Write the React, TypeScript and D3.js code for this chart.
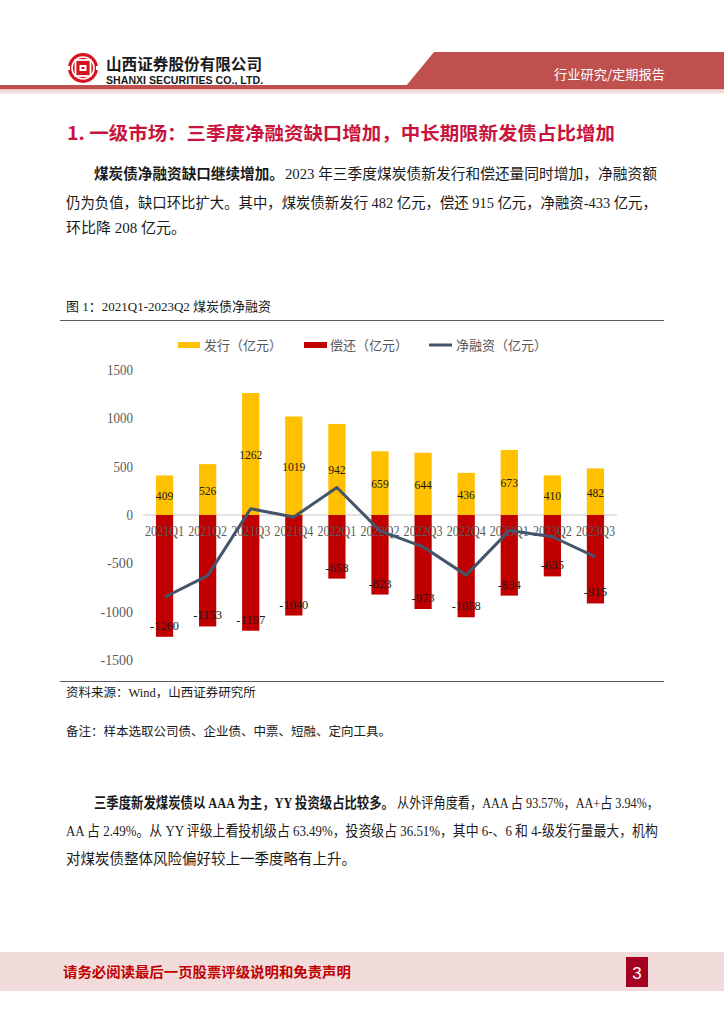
import React, { useLayoutEffect, useRef, useState, useEffect } from "react";
import * as d3 from "d3";

const categories = ["2021Q1","2021Q2","2021Q3","2021Q4","2022Q1","2022Q2","2022Q3","2022Q4","2023Q1","2023Q2","2023Q3"];
const issuance = [409, 526, 1262, 1019, 942, 659, 644, 436, 673, 410, 482];
const repayment = [-1260, -1153, -1197, -1040, -658, -823, -973, -1058, -834, -635, -915];
const netFinancing = [-851, -627, 65, -21, 284, -164, -329, -622, -161, -225, -433];
const yTicks = [1500, 1000, 500, 0, -500, -1000, -1500];
const legendItems = ["发行（亿元）", "偿还（亿元）", "净融资（亿元）"];

const SERIF = "'Liberation Serif', 'Noto Sans CJK SC', serif";
const SANS = "'Noto Sans CJK SC', 'Noto Sans', sans-serif";

function FitText(props: any) {
  const { x, y, width, children, ...rest } = props;
  const ref = useRef<SVGTextElement>(null);
  const [s, setS] = useState(1);
  const measure = () => {
    if (!ref.current) return;
    const w = ref.current.getComputedTextLength();
    if (w > 0) setS(width / w);
  };
  useLayoutEffect(measure, []);
  useEffect(() => {
    const f = (document as any).fonts;
    if (f && f.ready) f.ready.then(measure);
  }, []);
  return (
    <text ref={ref} x={0} y={0} transform={`translate(${x},${y}) scale(${s},1)`} {...rest}>
      {children}
    </text>
  );
}

export default function App() {
  const x = d3.scaleBand<string>().domain(categories).range([143, 617]).padding(0);
  const y = d3.scaleLinear().domain([-1500, 1500]).range([660, 370]);
  const bw = x.bandwidth() * 0.4;
  const cx = (c: string) => (x(c) as number) + x.bandwidth() / 2;
  const line = d3.line<number>().x((_, i) => cx(categories[i])).y((d) => y(d));

  const gray = "#595959";
  return (
    <svg width={724} height={1024} style={{ position: "absolute", left: 0, top: 0, background: "#fff" }}>
      {/* Header */}
      <g>
        <circle cx={83} cy={68} r={15} fill="#d7141e" />
        <circle cx={83} cy={68} r={11} fill="none" stroke="#fff" strokeWidth={1.6} />
        <rect x={75.5} y={60} width={15} height={16} fill="#d7141e" stroke="#fff" strokeWidth={1.8} />
        <rect x={79.5} y={65} width={7} height={6} fill="#fff" />
        <rect x={81.5} y={67} width={3} height={2} fill="#d7141e" />
        <rect x={66} y={66} width={4} height={4} fill="#fff" />
        <rect x={96} y={66} width={4} height={4} fill="#fff" />
        <FitText x={106} y={70} width={156} fontFamily={SANS} fontWeight={700} fontSize={15.5} fill="#1a1a1a">山西证券股份有限公司</FitText>
        <FitText x={106} y={84} width={157} fontFamily="'Liberation Sans', Arial, sans-serif" fontWeight={700} fontSize={10.5} fill="#1a1a1a">SHANXI SECURITIES CO., LTD.</FitText>
        <polygon points="434,52 724,52 724,86 406,86" fill="#c0504d" />
        <rect x={0} y={85} width={724} height={4.5} fill="#c0504d" />
        <rect x={0} y={89.5} width={724} height={4} fill="#f2dcdb" />
        <FitText x={554} y={79} width={111} fontFamily={SANS} fontSize={13} fill="#fff">行业研究/定期报告</FitText>
      </g>

      {/* Title */}
      <FitText x={67} y={140} width={548} fontFamily={SANS} fontWeight={700} fontSize={18.5} fill="#c8143c">1. 一级市场：三季度净融资缺口增加，中长期限新发债占比增加</FitText>

      {/* Paragraph 1 */}
      <g fontFamily={SERIF} fontSize={15} fill="#1a1a1a">
        <FitText x={94} y={179} width={190} fontFamily={SANS} fontWeight={700}>煤炭债净融资缺口继续增加。</FitText>
        <FitText x={285} y={179} width={372}>2023 年三季度煤炭债新发行和偿还量同时增加，净融资额</FitText>
        <FitText x={66} y={208} width={591}>仍为负值，缺口环比扩大。其中，煤炭债新发行 482 亿元，偿还 915 亿元，净融资-433 亿元，</FitText>
        <text x={66} y={233}>环比降 208 亿元。</text>
      </g>

      {/* Caption */}
      <text x={66} y={311} fontFamily={SERIF} fontSize={13} fill="#1a1a1a">图 1：2021Q1-2023Q2 煤炭债净融资</text>
      <line x1={60} x2={664} y1={320.5} y2={320.5} stroke="#595959" strokeWidth={1.2} />

      {/* Legend */}
      <g fontFamily={SANS} fontSize={13} fill={gray}>
        <rect x={178} y={342} width={22} height={6} fill="#ffc000" />
        <text x={204} y={350}>{legendItems[0]}</text>
        <rect x={304} y={342} width={23} height={6} fill="#c00000" />
        <text x={330} y={350}>{legendItems[1]}</text>
        <line x1={429} x2={452} y1={345} y2={345} stroke="#44546a" strokeWidth={3} />
        <text x={456} y={350}>{legendItems[2]}</text>
      </g>

      {/* Y axis labels */}
      <g fontFamily={SERIF} fontSize={14} fill={gray} textAnchor="end">
        {yTicks.map((t) => (
          <FitText key={t} x={133} y={y(t) + 5} width={String(t).length * 6.5}>{t}</FitText>
        ))}
      </g>

      {/* Zero line */}
      <line x1={143} x2={617} y1={y(0)} y2={y(0)} stroke="#d9d9d9" strokeWidth={1.5} />

      {/* Bars */}
      {categories.map((c, i) => (
        <g key={c}>
          <rect x={cx(c) - bw / 2} y={y(issuance[i])} width={bw} height={y(0) - y(issuance[i])} fill="#ffc000" />
          <rect x={cx(c) - bw / 2} y={y(0)} width={bw} height={y(repayment[i]) - y(0)} fill="#c00000" />
        </g>
      ))}

      {/* Category labels */}
      <g fontFamily={SERIF} fontSize={14} fill={gray} textAnchor="middle">
        {categories.map((c) => (
          <FitText key={c} x={cx(c)} y={536} width={39}>{c}</FitText>
        ))}
      </g>

      {/* Net line */}
      <path d={line(netFinancing) || ""} fill="none" stroke="#44546a" strokeWidth={3} strokeLinejoin="round" />

      {/* Data labels */}
      <g fontFamily={SERIF} fontSize={13.5} fill="#1a1a1a" textAnchor="middle">
        {categories.map((c, i) => (
          <FitText key={"i" + c} x={cx(c)} y={(y(issuance[i]) + y(0)) / 2 + 5} width={String(issuance[i]).length * 5.8}>{issuance[i]}</FitText>
        ))}
        {categories.map((c, i) => (
          <FitText key={"r" + c} x={cx(c)} y={y(repayment[i]) - 7} width={String(repayment[i]).length * 5.8}>{repayment[i]}</FitText>
        ))}
      </g>

      {/* Source */}
      <line x1={60} x2={664} y1={681.5} y2={681.5} stroke="#595959" strokeWidth={1.2} />
      <text x={66} y={697} fontFamily={SERIF} fontSize={12.5} fill="#1a1a1a">资料来源：Wind，山西证券研究所</text>
      <text x={66} y={736} fontFamily={SANS} fontSize={12.5} fill="#1a1a1a">备注：样本选取公司债、企业债、中票、短融、定向工具。</text>

      {/* Paragraph 2 */}
      <g fontFamily={SERIF} fontSize={14.5} fill="#1a1a1a">
        <FitText x={94} y={808} width={300} fontWeight={700}>三季度新发煤炭债以 AAA 为主，YY 投资级占比较多。</FitText>
        <FitText x={397} y={808} width={262}>从外评角度看，AAA 占 93.57%，AA+占 3.94%，</FitText>
        <FitText x={66} y={836} width={592}>AA 占 2.49%。从 YY 评级上看投机级占 63.49%，投资级占 36.51%，其中 6-、6 和 4-级发行量最大，机构</FitText>
        <text x={66} y={864}>对煤炭债整体风险偏好较上一季度略有上升。</text>
      </g>

      {/* Footer */}
      <rect x={0} y={952} width={724} height={39} fill="#f2dcdb" />
      <FitText x={63} y={977} width={288} fontFamily={SANS} fontWeight={700} fontSize={14} fill="#c00000">请务必阅读最后一页股票评级说明和免责声明</FitText>
      <rect x={626} y={957} width={22} height={30} fill="#a50021" />
      <text x={637} y={979} textAnchor="middle" fontFamily="'Liberation Sans', sans-serif" fontSize={17} fill="#fff">3</text>
    </svg>
  );
}
